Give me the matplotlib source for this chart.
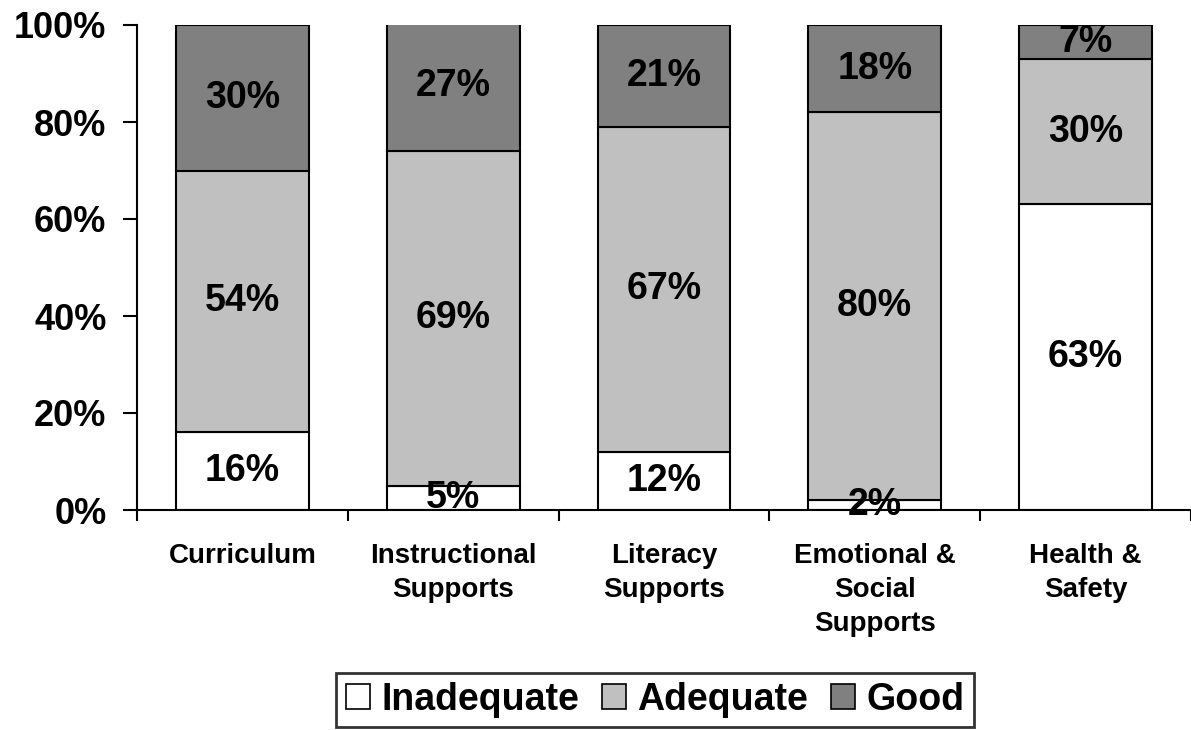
import numpy as np
import matplotlib.pyplot as plt
from matplotlib.patches import Patch

plt.rcParams['font.family'] = ['Liberation Sans', 'DejaVu Sans']
plt.rcParams['font.weight'] = 'bold'

categories = ["Curriculum", "Instructional\nSupports", "Literacy\nSupports",
              "Emotional &\nSocial\nSupports", "Health &\nSafety"]
inadequate = [16, 5, 12, 2, 63]
adequate = [54, 69, 67, 80, 30]
good = [30, 27, 21, 18, 7]
series_names = ["Inadequate", "Adequate", "Good"]
colors = ["#FFFFFF", "#C0C0C0", "#808080"]

fig = plt.figure(figsize=(11.91, 7.30), dpi=100)
ax = fig.add_axes([137 / 1191, 220 / 730, 1 - 137 / 1191, 485 / 730])

x = np.arange(len(categories))
bottom = np.zeros(len(categories))
for vals, name, col in zip([inadequate, adequate, good], series_names, colors):
    vals = np.array(vals, dtype=float)
    ax.bar(x, vals, bottom=bottom, width=0.63, color=col, edgecolor="black",
           linewidth=1.5, label=name)
    # 段中间标注百分比
    for xi, b, v in zip(x, bottom, vals):
        ax.text(xi, b + v / 2, f"{int(v)}%", ha="center", va="center",
                fontsize=27, fontweight="bold")
    bottom += vals

ax.set_xlim(-0.5, len(categories) - 0.5)
ax.set_ylim(0, 100)
ax.set_yticks(np.arange(0, 101, 20))
ax.set_yticklabels([f"{v}%" for v in range(0, 101, 20)], fontsize=26, fontweight="bold")
ax.set_xticks(x)
ax.set_xticklabels(categories, fontsize=20, fontweight="bold", linespacing=1.4)
ax.set_xticks(np.arange(-0.5, len(categories)), minor=True)
ax.tick_params(axis="x", which="major", length=0, pad=24)
ax.tick_params(axis="x", which="minor", length=8, width=1.5, direction="out")
ax.tick_params(axis="y", length=10, width=1.5, direction="out", pad=12)

for s in ["top", "right"]:
    ax.spines[s].set_visible(False)
ax.spines["left"].set_linewidth(1.5)
ax.spines["bottom"].set_linewidth(1.5)

handles = [Patch(facecolor=c, edgecolor="black", linewidth=1.2) for c in colors]
leg = fig.legend(handles, series_names, loc="center", bbox_to_anchor=(655 / 1191, 1 - 700 / 730),
                 ncol=3, fontsize=27, frameon=True, fancybox=False, handlelength=0.65,
                 handleheight=0.65, handletextpad=0.3, columnspacing=0.6, borderpad=0.25)
leg.get_frame().set_edgecolor("black")
leg.get_frame().set_linewidth(2)
for t in leg.get_texts():
    t.set_fontweight("bold")

fig.savefig("out.png", dpi=100)
